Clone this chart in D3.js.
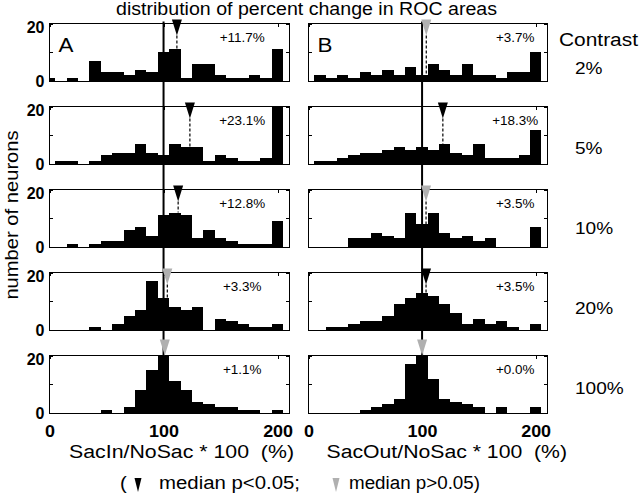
<!DOCTYPE html>
<html><head><meta charset="utf-8">
<script src="https://cdn.jsdelivr.net/npm/d3@7"></script>
<style>
html,body{margin:0;padding:0;background:#fff;}
svg{display:block;font-family:"Liberation Sans",Arial,Helvetica,sans-serif;}
text{white-space:pre;}
</style></head><body>
<svg id="chart" width="640" height="499"></svg>
<script>
// ---------- data ----------
const binCenters = [0,10,20,30,40,50,60,70,80,90,100,110,120,130,140,150,160,170,180,190,200];
const contrasts  = ["2%","5%","10%","20%","100%"];

const sacIn2   = [1,0,1,0,7,3,3,2,4,3,10,11,1,6,6,2,1,1,2,1,11];
const sacIn5   = [0,1,1,0,1,3,4,4,7,4,3,7,6,6,1,3,2,1,1,2,20];
const sacIn10  = [0,0,1,0,1,2,2,6,7,4,11,12,11,3,6,3,2,1,1,1,9];
const sacIn20  = [0,0,0,0,1,0,2,5,7,17,11,8,7,8,0,4,3,2,1,1,2];
const sacIn100 = [0,0,0,0,0,1,0,2,8,15,20,11,8,4,3,2,2,1,1,0,1];

const sacOut2   = [0,2,1,2,1,3,2,4,2,5,2,6,4,2,6,2,2,1,3,3,10];
const sacOut5   = [0,1,1,2,3,4,4,5,6,5,6,5,7,4,3,7,2,2,2,3,12];
const sacOut10  = [0,0,0,0,3,3,5,4,3,12,8,12,5,3,4,2,3,0,0,0,7];
const sacOut20  = [0,0,1,1,2,3,3,5,9,11,13,12,9,6,2,4,2,3,1,0,2];
const sacOut100 = [0,0,0,0,0,1,2,3,5,17,20,12,5,4,3,2,0,2,0,0,2];

const mediansIn  = [111.7,123.1,112.8,103.3,101.1];
const mediansOut = [103.7,118.3,103.5,103.5,100.0];
const signifIn   = [true,true,true,false,false];
const signifOut  = [false,true,false,true,false];
const changeIn   = ["+11.7%","+23.1%","+12.8%","+3.3%","+1.1%"];
const changeOut  = ["+3.7%","+18.3%","+3.5%","+3.5%","+0.0%"];
const xTickValues = [0,100,200];
const yTickValues = [0,20];

// ---------- layout ----------
const svg = d3.select("#chart");
const STRETCH = 1.12;
const GRAY = "#b0b0b0";
function stretch(sel, len){
  sel.each(function(){
    const l = len != null ? len : this.getComputedTextLength()*STRETCH;
    d3.select(this).attr("textLength", l).attr("lengthAdjust","spacingAndGlyphs");
  });
}
const columns = [
  {range:[49.5,289], series:[sacIn2,sacIn5,sacIn10,sacIn20,sacIn100], med:mediansIn, sig:signifIn, lab:changeIn, letter:"A", labPos:169},
  {range:[308.5,547], series:[sacOut2,sacOut5,sacOut10,sacOut20,sacOut100], med:mediansOut, sig:signifOut, lab:changeOut, letter:"B", labPos:182}
];
const rowTop0 = 23.5, rowStep = 83, rowH = 57.5;
const nRows = 5;

columns.forEach((col, c) => {
  const x = d3.scaleLinear().domain([0,210]).range(col.range);
  const gCol = svg.append("g");
  for (let r = 0; r < nRows; r++) {
    const top = rowTop0 + r*rowStep, bot = top + rowH;
    const y = d3.scaleLinear().domain([0,20]).range([bot, top]);
    const g = gCol.append("g");
    const counts = col.series[r];
    const data = binCenters.map((b,i)=>({b, n:counts[i]})).filter(d=>d.n>0);
    g.selectAll("rect.bar").data(data).join("rect")
      .attr("class","bar")
      .attr("x", d=>x(Math.max(0,d.b-5)))
      .attr("width", d=>x(Math.min(210,d.b+5)) - x(Math.max(0,d.b-5)))
      .attr("y", d=>y(d.n))
      .attr("height", d=>y(0)-y(d.n))
      .attr("fill","#000")
      .attr("shape-rendering","crispEdges");
    // frame
    g.append("rect").attr("x",x(0)).attr("y",top).attr("width",x(210)-x(0)).attr("height",rowH)
      .attr("fill","none").attr("stroke","#000").attr("stroke-width",1).attr("shape-rendering","crispEdges");
    // inward ticks
    const tk = (axis, tr) => g.append("g").attr("transform",tr).call(axis)
      .call(s=>s.select(".domain").remove())
      .call(s=>s.selectAll("line").attr("shape-rendering","crispEdges"));
    tk(d3.axisRight(y).tickValues([0,10,20]).tickSize(3).tickFormat(""), `translate(${x(0)},0)`);
    tk(d3.axisLeft(y).tickValues([0,10,20]).tickSize(3).tickFormat(""), `translate(${x(210)},0)`);
    tk(d3.axisBottom(x).tickValues(xTickValues).tickSize(3).tickFormat(""), `translate(0,${top})`);
    // y tick labels (left column only)
    if (c === 0) {
      const ya = g.append("g").attr("transform",`translate(${x(0)},0)`)
        .call(d3.axisLeft(y).tickValues(yTickValues).tickSize(0).tickPadding(5));
      ya.select(".domain").remove();
      ya.selectAll("text").attr("font-size",16).attr("font-weight","bold")
        .attr("font-family",'"Liberation Sans",Arial,sans-serif')
        .attr("dy", d => d===20 ? "0.55em" : "0.32em");
    }
    // x tick labels (bottom row only)
    if (r === nRows-1) {
      const xa = g.append("g").attr("transform",`translate(0,${bot})`)
        .call(d3.axisBottom(x).tickValues(xTickValues).tickSize(0).tickPadding(13));
      xa.select(".domain").remove();
      xa.selectAll("text").attr("font-size",16).attr("font-weight","bold")
        .attr("font-family",'"Liberation Sans",Arial,sans-serif');
      stretch(xa.selectAll("text"));
    }
    // percent change label
    g.append("text").attr("x", x(col.labPos)).attr("y", top+18)
      .attr("text-anchor","middle").attr("font-size",12).text(col.lab[r]).call(stretch);
    // letter
    if (r === 0) {
      g.append("text").attr("x", x(0)+9).attr("y", top+28.5).attr("font-size",20).text(col.letter).call(stretch);
    }
  }
  // vertical reference line at 100
  gCol.append("line").attr("x1",x(100)).attr("x2",x(100))
    .attr("y1",rowTop0-2).attr("y2",rowTop0+(nRows-1)*rowStep+rowH)
    .attr("stroke","#000").attr("stroke-width",2);
  // median markers
  for (let r = 0; r < nRows; r++) {
    const top = rowTop0 + r*rowStep, bot = top + rowH;
    const y = d3.scaleLinear().domain([0,20]).range([bot, top]);
    const m = col.med[r];
    const idx = binCenters.findIndex(b => m >= b-5 && m < b+5);
    const h = col.series[r][idx];
    const xm = x(m);
    const tipY = Math.min(y(h), top+12);
    if (y(h) > tipY + 1) {
      gCol.append("line").attr("x1",xm).attr("x2",xm).attr("y1",tipY).attr("y2",y(h))
        .attr("stroke","#000").attr("stroke-width",1.2).attr("stroke-dasharray","3,2");
    }
    gCol.append("path")
      .attr("d",`M${xm-5},${tipY-16}L${xm+5},${tipY-16}L${xm},${tipY}Z`)
      .attr("fill", col.sig[r] ? "#000" : GRAY);
  }
});

// contrast labels
svg.append("text").attr("x",559).attr("y",46).attr("font-size",18).text("Contrast").call(stretch, 79);
contrasts.forEach((t,i)=>{
  svg.append("text").attr("x",575).attr("y", rowTop0 + i*rowStep + 50.5 - 3*i)
    .attr("font-size",17).text(t).call(stretch);
});

// title
svg.append("text").attr("x",306.5).attr("y",14.5).attr("text-anchor","middle").attr("font-size",17.5)
  .text("distribution of percent change in ROC areas").call(stretch, 381);

// y axis title
svg.append("text").attr("transform","translate(18,215) rotate(-90)").attr("text-anchor","middle")
  .attr("font-size",18).text("number of neurons").call(stretch);

// x axis titles
svg.append("text").attr("x",181.5).attr("y",458).attr("text-anchor","middle").attr("font-size",18)
  .text("SacIn/NoSac * 100  (%)").call(stretch, 225);
svg.append("text").attr("x",446.75).attr("y",458).attr("text-anchor","middle").attr("font-size",18)
  .text("SacOut/NoSac * 100  (%)").call(stretch, 240.5);

// legend
svg.append("text").attr("x",120).attr("y",489).attr("font-size",18).text("(").call(stretch);
svg.append("path").attr("d","M134.5,478L141.5,478L138,492Z").attr("fill","#000");
svg.append("text").attr("x",159).attr("y",489).attr("font-size",18).text("median p<0.05;").call(stretch, 141);
svg.append("path").attr("d","M332.5,478L339.5,478L336,492Z").attr("fill",GRAY);
svg.append("text").attr("x",349).attr("y",489).attr("font-size",18).text("median p>0.05)").call(stretch, 131);
</script>
</body></html>
